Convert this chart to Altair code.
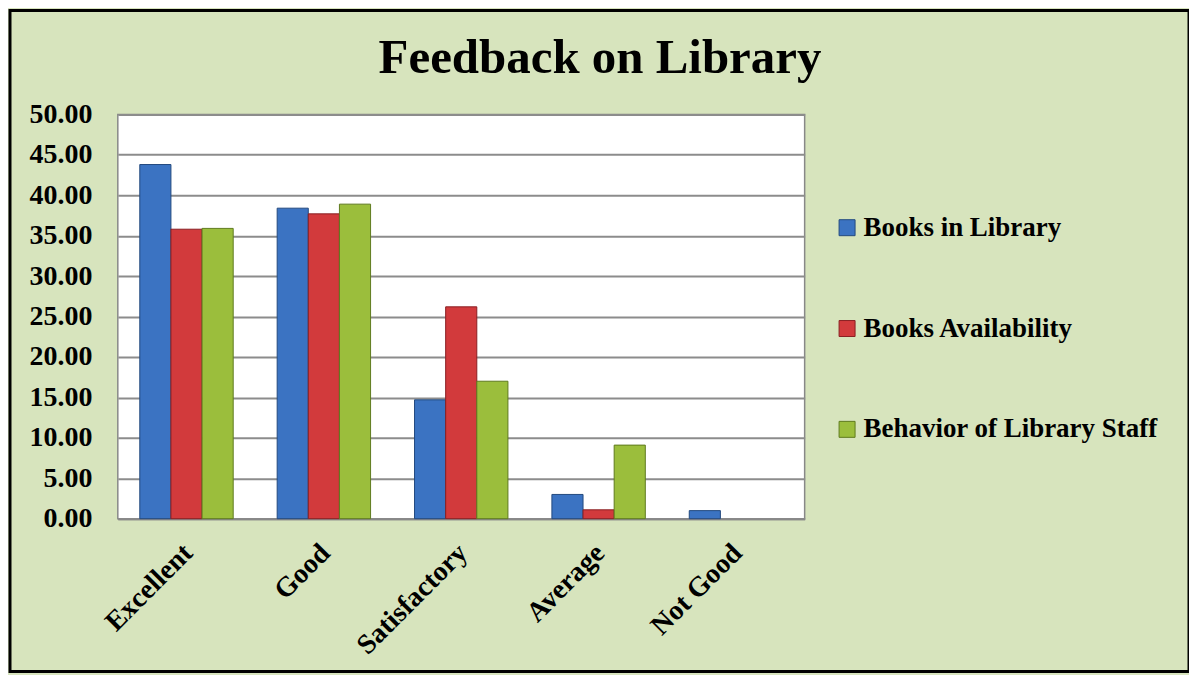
import altair as alt
import pandas as pd

categories = ["Excellent", "Good", "Satisfactory", "Average", "Not Good"]
series = ["Books in Library", "Books Availability", "Behavior of Library Staff"]
books_in_library = [43.8, 38.4, 14.7, 3.0, 1.0]
books_availability = [35.8, 37.7, 26.2, 1.1, 0.0]
behavior_staff = [35.9, 38.9, 17.0, 9.1, 0.0]
colors = ["#3B73C2", "#D23A3C", "#9BBE3C"]
strokes = ["#23497E", "#8A1F22", "#5E7A1E"]
title_text = "Feedback on Library"

rows = []
for vals, s in zip([books_in_library, books_availability, behavior_staff], series):
    for c, v in zip(categories, vals):
        rows.append({"Category": c, "Series": s, "Value": v})
df = pd.DataFrame(rows)

FONT = "Liberation Serif"

bars = alt.Chart(df).transform_filter("datum.Value > 0").mark_bar(strokeWidth=1).encode(
    x=alt.X("Category:N", sort=categories, title=None,
            scale=alt.Scale(domain=categories, paddingInner=0.32, paddingOuter=0.16),
            axis=alt.Axis(labelAngle=-45, labelFont=FONT, labelFontSize=28,
                          labelFontWeight="bold", labelColor="black",
                          ticks=False, domainColor="#888888", domainWidth=2,
                          labelPadding=20, labelOffset=-8)),
    xOffset=alt.XOffset("Series:N", sort=series, scale=alt.Scale(domain=series)),
    y=alt.Y("Value:Q", title=None,
            scale=alt.Scale(domain=[0, 50]),
            axis=alt.Axis(values=list(range(0, 51, 5)), format=".2f",
                          labelFont=FONT, labelFontSize=28, labelFontWeight="bold",
                          labelColor="black", ticks=False, domain=False,
                          labelPadding=26, gridColor="#8C8C8C", gridWidth=2)),
    color=alt.Color("Series:N", sort=series,
                    scale=alt.Scale(domain=series, range=colors),
                    legend=alt.Legend(title=None, orient="none", legendX=717, legendY=100,
                                      labelFont=FONT, labelFontSize=27,
                                      labelFontWeight="bold", labelColor="black",
                                      symbolType="square", symbolSize=256,
                                      symbolStrokeWidth=1, rowPadding=73,
                                      labelOffset=3, labelLimit=400)),
    stroke=alt.Stroke("Series:N", sort=series,
                      scale=alt.Scale(domain=series, range=strokes), legend=None),
)

title = alt.Chart(pd.DataFrame({"t": [title_text]})).mark_text(
    font=FONT, fontSize=49, fontWeight="bold", color="black",
    align="center", baseline="alphabetic"
).encode(text="t:N", x=alt.value(483), y=alt.value(-41))

frame = alt.Chart(pd.DataFrame({"a": [0]})).mark_rect(
    fill=None, stroke="black", strokeWidth=3
).encode(
    x=alt.value(-108), x2=alt.value(1073),
    y=alt.value(-104), y2=alt.value(558),
)

chart = alt.layer(bars, title, frame).properties(
    width=688, height=405,
    background="#D7E4BD",
    padding={"left": 110, "top": 106, "right": 385, "bottom": 156},
    autosize=alt.AutoSizeParams(type="none"),
).configure_view(fill="white", stroke="#888888", strokeWidth=1.5)

chart.save("out.html", embed_options={"renderer": "svg", "actions": False})
